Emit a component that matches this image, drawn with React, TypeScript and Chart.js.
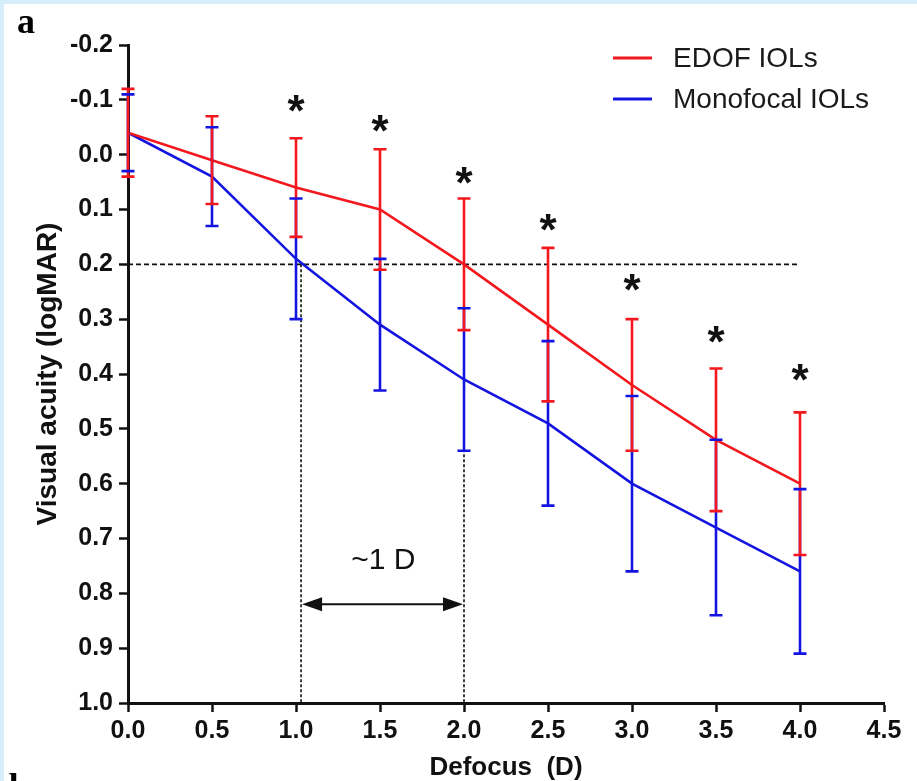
import React, { useEffect, useRef } from 'react';
import { Chart, registerables } from 'chart.js';

Chart.register(...registerables);

// ---------- data ----------
const defocus = [0, 0.5, 1, 1.5, 2, 2.5, 3, 3.5, 4];
const edofMean = [-0.04, 0.01, 0.06, 0.1, 0.2, 0.31, 0.42, 0.52, 0.6];
const edofSD = [0.08, 0.08, 0.09, 0.11, 0.12, 0.14, 0.12, 0.13, 0.13];
const monoMean = [-0.04, 0.04, 0.19, 0.31, 0.41, 0.49, 0.6, 0.68, 0.76];
const monoSD = [0.07, 0.09, 0.11, 0.12, 0.13, 0.15, 0.16, 0.16, 0.15];
// significance markers (logMAR position of the asterisk), null = none
const asteriskY = [null, null, -0.095, -0.06, 0.036, 0.122, 0.23, 0.326, 0.395];

const seriesLabels = ['EDOF IOLs', 'Monofocal IOLs'];
const xTickValues = [0, 0.5, 1, 1.5, 2, 2.5, 3, 3.5, 4, 4.5];
const yTickValues = [-0.2, -0.1, 0, 0.1, 0.2, 0.3, 0.4, 0.5, 0.6, 0.7, 0.8, 0.9, 1.0];

// reference annotation values
const threshold = 0.2;
const thresholdEnd = 4.0;
const monoCross = 1.03;
const edofCross = 2.0;
const arrowY = 0.82;
const rangeText = '~1 D';
const rangeTextX = 1.52;
const rangeTextY = 0.74;

const RED = 'rgb(242,24,30)';
const BLUE = 'rgb(20,20,224)';
const SANS = "'Liberation Sans', Arial, Helvetica, sans-serif";
const SERIF = "'Liberation Serif', 'Times New Roman', serif";

const decorPlugin = {
  id: 'decor',
  beforeDraw(chart: any) {
    const { ctx, width, height } = chart;
    ctx.save();
    ctx.fillStyle = '#ffffff';
    ctx.fillRect(0, 0, width, height);
    ctx.fillStyle = '#d6eef9';
    ctx.fillRect(0, 0, width, 4);
    ctx.fillRect(0, 0, 4, height);
    ctx.restore();
  },
  afterDatasetsDraw(chart: any) {
    const { ctx } = chart;
    const xs = chart.scales.x;
    const ys = chart.scales.y;
    const capHalf = 6.5;

    const bars = (mean: number[], sd: number[], color: string) => {
      ctx.save();
      ctx.strokeStyle = color;
      ctx.lineWidth = 2.6;
      ctx.beginPath();
      mean.forEach((m, i) => {
        const x = xs.getPixelForValue(defocus[i]);
        ctx.moveTo(x, ys.getPixelForValue(m - sd[i]));
        ctx.lineTo(x, ys.getPixelForValue(m + sd[i]));
      });
      ctx.stroke();
      ctx.restore();
    };
    const caps = (mean: number[], sd: number[], color: string) => {
      ctx.save();
      ctx.strokeStyle = color;
      ctx.lineWidth = 2.6;
      ctx.beginPath();
      mean.forEach((m, i) => {
        const x = xs.getPixelForValue(defocus[i]);
        [m - sd[i], m + sd[i]].forEach((v) => {
          const y = ys.getPixelForValue(v);
          ctx.moveTo(x - capHalf, y);
          ctx.lineTo(x + capHalf, y);
        });
      });
      ctx.stroke();
      ctx.restore();
    };
    bars(monoMean, monoSD, BLUE);
    bars(edofMean, edofSD, RED);
    caps(edofMean, edofSD, RED);
    caps(monoMean, monoSD, BLUE);

    // asterisks
    const starSize = 44;
    ctx.save();
    ctx.fillStyle = '#111';
    ctx.font = `bold ${starSize}px ${SANS}`;
    ctx.textAlign = 'center';
    ctx.textBaseline = 'alphabetic';
    asteriskY.forEach((v, i) => {
      if (v === null) return;
      const x = xs.getPixelForValue(defocus[i]);
      const y = ys.getPixelForValue(v);
      ctx.fillText('*', x, y + 0.54 * starSize);
    });
    ctx.restore();

    // double arrow
    const ax1 = xs.getPixelForValue(monoCross);
    const ax2 = xs.getPixelForValue(edofCross);
    const ay = ys.getPixelForValue(arrowY);
    const headL = 20;
    const headH = 7;
    ctx.save();
    ctx.strokeStyle = '#111';
    ctx.fillStyle = '#111';
    ctx.lineWidth = 2;
    ctx.beginPath();
    ctx.moveTo(ax1 + headL - 2, ay);
    ctx.lineTo(ax2 - headL + 2, ay);
    ctx.stroke();
    ctx.beginPath();
    ctx.moveTo(ax1 + 1, ay);
    ctx.lineTo(ax1 + 1 + headL, ay - headH);
    ctx.lineTo(ax1 + 1 + headL, ay + headH);
    ctx.closePath();
    ctx.fill();
    ctx.beginPath();
    ctx.moveTo(ax2 - 1, ay);
    ctx.lineTo(ax2 - 1 - headL, ay - headH);
    ctx.lineTo(ax2 - 1 - headL, ay + headH);
    ctx.closePath();
    ctx.fill();
    ctx.font = `30px ${SANS}`;
    ctx.textAlign = 'center';
    ctx.textBaseline = 'middle';
    ctx.fillText(rangeText, xs.getPixelForValue(rangeTextX), ys.getPixelForValue(rangeTextY));
    ctx.restore();

    // legend
    ctx.save();
    const legendColors = [RED, BLUE];
    const legendRows = [58, 99];
    ctx.lineWidth = 3;
    ctx.font = `28px ${SANS}`;
    ctx.textAlign = 'left';
    ctx.textBaseline = 'middle';
    chart.data.datasets.slice(0, 2).forEach((ds: any, i: number) => {
      const y = legendRows[i];
      ctx.strokeStyle = legendColors[i];
      ctx.beginPath();
      ctx.moveTo(613, y);
      ctx.lineTo(652, y);
      ctx.stroke();
      ctx.fillStyle = '#1a1a1a';
      ctx.fillText(ds.label, 673, y + 1);
    });
    ctx.restore();

    // panel letters
    ctx.save();
    ctx.fillStyle = '#000';
    ctx.font = `bold 36px ${SERIF}`;
    ctx.textAlign = 'left';
    ctx.textBaseline = 'alphabetic';
    ctx.fillText('a', 17, 33);
    ctx.fillText('b', 9, 798);
    ctx.restore();
  },
};

export default function App() {
  const ref = useRef<HTMLCanvasElement | null>(null);

  useEffect(() => {
    if (!ref.current) return;
    const refStyle = {
      borderColor: '#111',
      borderWidth: 1.6,
      pointRadius: 0,
      fill: false,
      tension: 0,
      order: 5,
    };
    const chart = new Chart(ref.current, {
      type: 'line',
      data: {
        datasets: [
          {
            label: seriesLabels[0],
            data: defocus.map((x, i) => ({ x, y: edofMean[i] })),
            borderColor: RED,
            backgroundColor: RED,
            borderWidth: 2.6,
            pointRadius: 0,
            tension: 0,
            order: 1,
          },
          {
            label: seriesLabels[1],
            data: defocus.map((x, i) => ({ x, y: monoMean[i] })),
            borderColor: BLUE,
            backgroundColor: BLUE,
            borderWidth: 2.6,
            pointRadius: 0,
            tension: 0,
            order: 2,
          },
          {
            label: 'threshold',
            data: [
              { x: 0, y: threshold },
              { x: thresholdEnd, y: threshold },
            ],
            borderDash: [5, 3],
            ...refStyle,
          },
          {
            label: 'mono crossing',
            data: [
              { x: monoCross, y: threshold },
              { x: monoCross, y: 1.0 },
            ],
            borderDash: [3, 2],
            ...refStyle,
          },
          {
            label: 'edof crossing',
            data: [
              { x: edofCross, y: threshold },
              { x: edofCross, y: 1.0 },
            ],
            borderDash: [3, 2],
            ...refStyle,
          },
        ] as any,
      },
      options: {
        animation: false,
        responsive: false,
        devicePixelRatio: 1,
        layout: { padding: { left: 0, top: 45, right: 33, bottom: 0 } },
        plugins: {
          legend: { display: false },
          tooltip: { enabled: false },
        },
        scales: {
          x: {
            type: 'linear',
            min: 0,
            max: 4.5,
            afterFit: (s: any) => {
              s.height = 78;
            },
            afterBuildTicks: (s: any) => {
              s.ticks = xTickValues.map((v) => ({ value: v }));
            },
            ticks: {
              callback: (v: any) => Number(v).toFixed(1),
              font: { family: SANS, size: 25, weight: 'bold' },
              color: '#111',
              padding: 4,
              maxRotation: 0,
              autoSkip: false,
            },
            grid: {
              drawOnChartArea: false,
              drawTicks: true,
              tickLength: 9,
              tickWidth: 2.5,
              tickColor: '#111',
            },
            border: { display: true, color: '#111', width: 3 },
            title: {
              display: true,
              text: 'Defocus  (D)',
              font: { family: SANS, size: 26, weight: 'bold' },
              color: '#111',
              padding: { top: 0, bottom: -2 },
            },
          },
          y: {
            type: 'linear',
            min: -0.2,
            max: 1.0,
            reverse: true,
            afterFit: (s: any) => {
              s.width = 128;
            },
            afterBuildTicks: (s: any) => {
              s.ticks = yTickValues.map((v) => ({ value: v }));
            },
            ticks: {
              callback: (v: any) => Number(v).toFixed(1),
              font: { family: SANS, size: 25, weight: 'bold' },
              color: '#111',
              padding: 6,
              autoSkip: false,
            },
            grid: {
              drawOnChartArea: false,
              drawTicks: true,
              tickLength: 9,
              tickWidth: 2.5,
              tickColor: '#111',
            },
            border: { display: true, color: '#111', width: 3 },
            title: {
              display: true,
              text: 'Visual acuity (logMAR)',
              font: { family: SANS, size: 28, weight: 'bold' },
              color: '#111',
              padding: { top: 31, bottom: 0 },
            },
          },
        },
      } as any,
      plugins: [decorPlugin],
    });
    return () => chart.destroy();
  }, []);

  return (
    <div style={{ position: 'absolute', left: 0, top: 0, width: 917, height: 781, background: '#fff' }}>
      <canvas ref={ref} width={917} height={781} style={{ width: 917, height: 781, display: 'block' }} />
    </div>
  );
}
